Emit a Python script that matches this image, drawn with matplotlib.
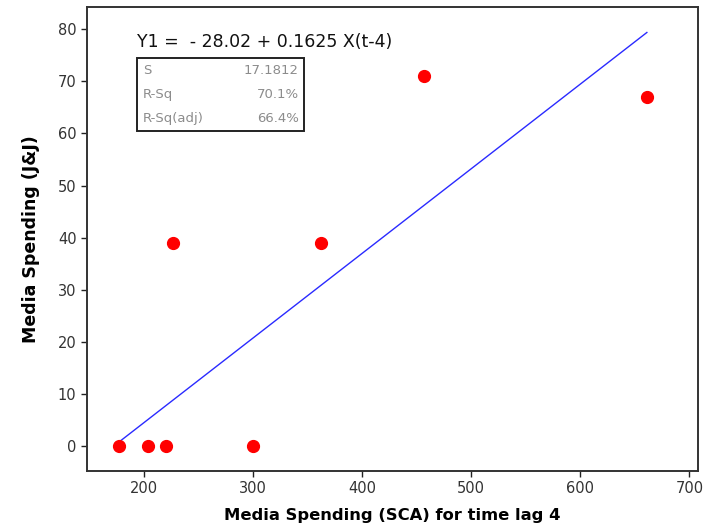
import matplotlib
matplotlib.use("Agg")
import matplotlib.pyplot as plt
import numpy as np

# Media spending: SCA lagged 4 periods vs J&J
sca_lag4 = [177, 204, 220, 300, 227, 362, 457, 661]
jj_spend = [0, 0, 0, 0, 39, 39, 71, 67]

# Fitted regression line
intercept = -28.02
slope = 0.1625

x_ticks = [200, 300, 400, 500, 600, 700]
y_ticks = [0, 10, 20, 30, 40, 50, 60, 70, 80]

stats_names = ["S", "R-Sq", "R-Sq(adj)"]
stats_values = ["17.1812", "70.1%", "66.4%"]

plt.rcParams["font.family"] = ["DejaVu Sans"]

fig = plt.figure(figsize=(7.1, 5.31), dpi=100)
ax = fig.add_axes([0.1225, 0.113, 0.8605, 0.873])

xs = np.array([min(sca_lag4), max(sca_lag4)])
ax.plot(xs, intercept + slope * xs, color="#2a2aff", lw=1.0, zorder=2)
ax.plot(sca_lag4, jj_spend, "o", color="#ff0000", ms=8.5, mec="#ff0000", zorder=3)

ax.set_xlim(147.8, 707.8)
ax.set_ylim(-4.8, 84.2)
ax.set_xticks(x_ticks)
ax.set_yticks(y_ticks)
ax.tick_params(direction="out", length=4, width=1, colors="#222222",
               labelsize=10.5, labelcolor="#333333")
for s in ax.spines.values():
    s.set_color("#333333")
    s.set_linewidth(1.4)

ax.set_xlabel("Media Spending (SCA) for time lag 4", fontsize=11.8,
              fontweight="bold", labelpad=8)
ax.set_ylabel("Media Spending (J&J)", fontsize=12.5, fontweight="bold",
              labelpad=13)

# Regression equation
fig.text(137 / 710, 1 - 42 / 531, "Y1 =  - 28.02 + 0.1625 X(t-4)",
         fontsize=12.5, color="#111111", ha="left", va="center")

# Summary statistics box
box_l, box_r = 137 / 710, 304 / 710
box_t, box_b = 1 - 58 / 531, 1 - 131 / 531
rect = plt.Rectangle((box_l, box_b), box_r - box_l, box_t - box_b,
                     transform=fig.transFigure, fill=False,
                     edgecolor="#222222", lw=1.4)
fig.add_artist(rect)
row_h = (box_t - box_b) / 3
for i, (n, v) in enumerate(zip(stats_names, stats_values)):
    yy = box_t - row_h * (i + 0.5)
    fig.text(box_l + 6 / 710, yy, n, fontsize=9.5, color="#8c8c8c",
             ha="left", va="center")
    fig.text(box_r - 5 / 710, yy, v, fontsize=9.5, color="#8c8c8c",
             ha="right", va="center")

fig.savefig("out.png", dpi=100)
